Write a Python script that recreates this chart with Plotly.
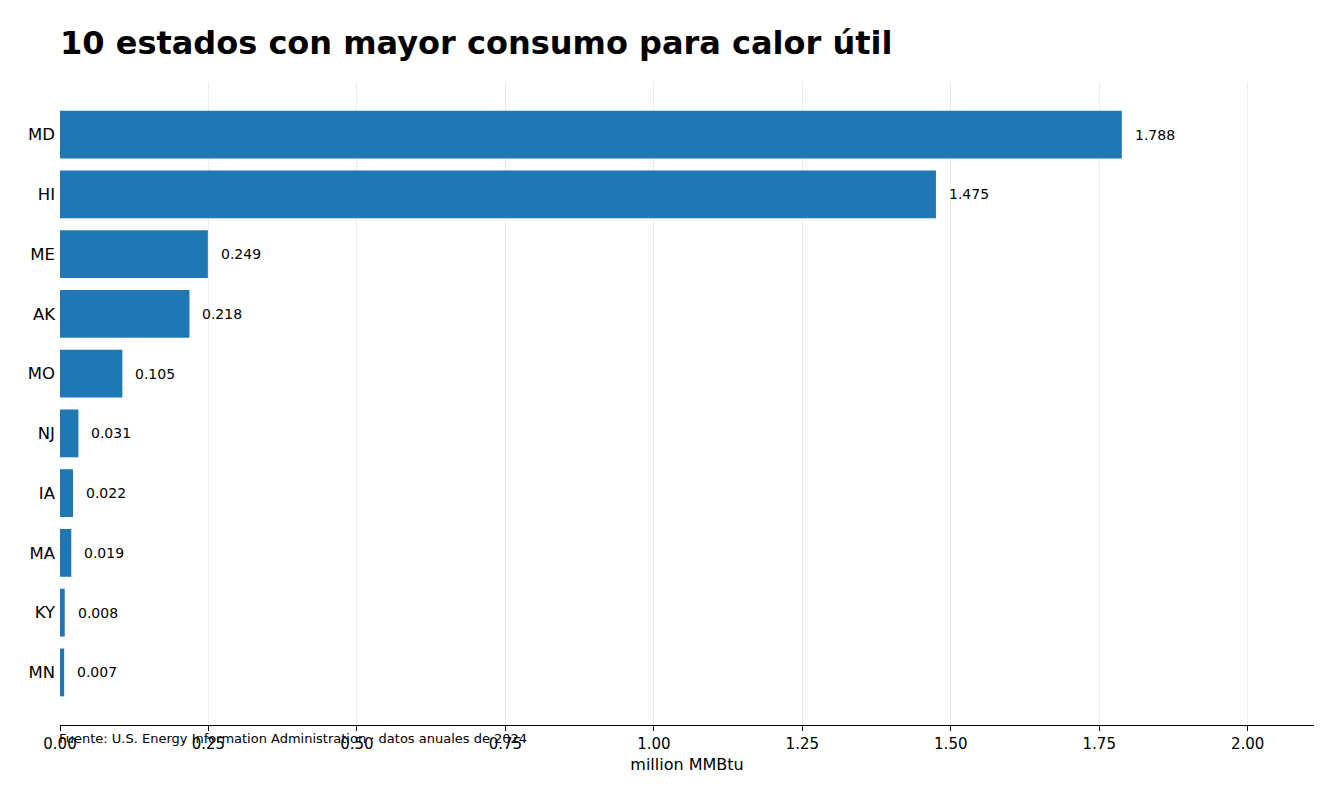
import plotly.graph_objects as go

# data
states = ["MD", "HI", "ME", "AK", "MO", "NJ", "IA", "MA", "KY", "MN"]
consumo = [1.788, 1.475, 0.249, 0.218, 0.105, 0.031, 0.022, 0.019, 0.008, 0.007]
tick_vals = [0, 0.25, 0.5, 0.75, 1.0, 1.25, 1.5, 1.75, 2.0]
tick_text = ["0.00", "0.25", "0.50", "0.75", "1.00", "1.25", "1.50", "1.75", "2.00"]

FONT = "DejaVu Sans"
BAR_COLOR = "#1f77b4"
W, H = 1341, 802
M_T, M_B = 74, 85

fig = go.Figure()
fig.add_trace(go.Bar(
    x=consumo,
    y=states,
    orientation="h",
    width=0.8,
    marker=dict(color=BAR_COLOR, line=dict(width=0)),
    hoverinfo="x+y",
))

# value labels to the right of each bar
for s, v in zip(states, consumo):
    fig.add_annotation(
        x=v, y=s, xref="x", yref="y",
        text=f"{v:.3f}", showarrow=False,
        xanchor="left", yanchor="middle", xshift=11,
        font=dict(family=FONT, size=14, color="black"),
    )

# source note sits over the x tick labels
plot_h = H - M_T - M_B
fig.add_annotation(
    x=0, y=-(730 - (H - M_B)) / plot_h, xref="paper", yref="paper",
    text="Fuente: U.S. Energy Information Administration · datos anuales de 2024",
    showarrow=False, xanchor="left", yanchor="middle", xshift=-3,
    font=dict(family=FONT, size=13, color="black"),
)

fig.update_layout(
    width=W, height=H,
    margin=dict(l=52, r=35, t=M_T, b=M_B),
    paper_bgcolor="white", plot_bgcolor="white",
    font=dict(family=FONT, color="black"),
    showlegend=False,
    bargap=0.2,
    title=dict(
        text="<b>10 estados con mayor consumo para calor útil</b>",
        x=0, xref="paper", xanchor="left",
        y=1 - 35 / H, yref="container", yanchor="middle",
        font=dict(family=FONT, size=32, color="black"),
    ),
    xaxis=dict(
        range=[0, max(consumo) * 1.181],
        tickvals=tick_vals, ticktext=tick_text,
        tickfont=dict(family=FONT, size=15),
        ticks="outside", ticklen=5, tickcolor="black",
        showline=True, linecolor="black", linewidth=1,
        showgrid=True, gridcolor="rgba(176,176,176,0.24)", gridwidth=1,
        zeroline=False, layer="above traces",
        title=dict(text="million MMBtu", font=dict(family=FONT, size=16), standoff=6),
    ),
    yaxis=dict(
        categoryorder="array", categoryarray=states[::-1],
        range=[-0.88, 9.88],
        tickfont=dict(family=FONT, size=16.5),
        showline=False, showgrid=False, zeroline=False,
        ticks="", ticklabelstandoff=4,
    ),
)

fig.write_html("out.html")
